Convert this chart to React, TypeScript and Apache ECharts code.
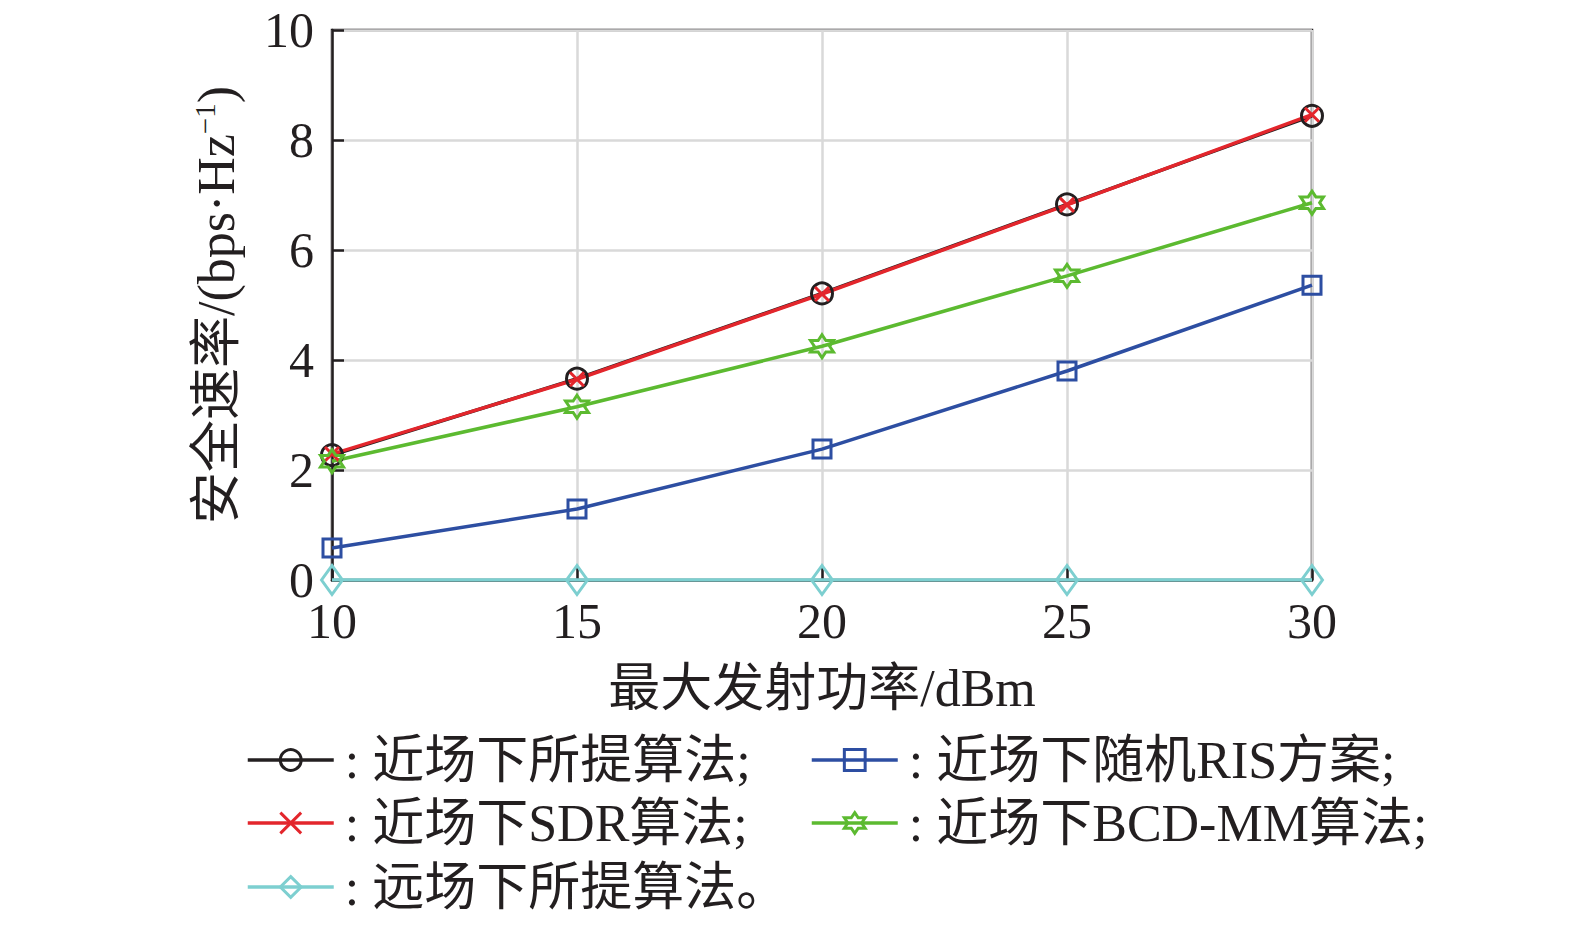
import React, { useEffect, useRef } from "react";
import * as echarts from "echarts";

const xValues = [10, 15, 20, 25, 30];
const nearProposed = [2.27, 3.66, 5.21, 6.83, 8.44];
const nearSDR = [2.29, 3.65, 5.2, 6.82, 8.46];
const nearRandomRIS = [0.58, 1.29, 2.38, 3.8, 5.36];
const nearBCDMM = [2.16, 3.15, 4.25, 5.53, 6.86];
const farProposed = [0, 0, 0, 0, 0];

const seriesNames = [
  "近场下所提算法",
  "近场下SDR算法",
  "近场下随机RIS方案",
  "近场下BCD-MM算法",
  "远场下所提算法",
];
const legendSuffix: Record<string, string> = {
  "近场下所提算法": ";",
  "近场下SDR算法": ";",
  "近场下随机RIS方案": ";",
  "近场下BCD-MM算法": ";",
  "远场下所提算法": "。",
};

const FONT = "'Liberation Serif', 'Times New Roman', 'Noto Sans CJK SC', serif";
const INK = "#231f20";

const hexagram =
  "path://M10,0L12.89,5L18.66,5L15.77,10L18.66,15L12.89,15L10,20L7.11,15L1.34,15L4.23,10L1.34,5L7.11,5Z";
const cross = "path://M0,0L10,10M10,0L0,10";

export default function App() {
  const ref = useRef<HTMLDivElement>(null);
  useEffect(() => {
    if (!ref.current) return;
    const chart = echarts.init(ref.current, undefined, { renderer: "svg" });
    const pair = (arr: number[]) => xValues.map((x, i) => [x, arr[i]]);
    const mk = (
      name: string,
      data: number[],
      color: string,
      symbol: string,
      symbolSize: number | number[]
    ) => ({
      name,
      type: "line",
      data: pair(data),
      symbol,
      symbolSize,
      showAllSymbol: true,
      lineStyle: { color, width: 3.5 },
      itemStyle: { color: "rgba(0,0,0,0)", borderColor: color, borderWidth: 3 },
      emphasis: { disabled: true },
    });
    const legendItem = (name: string, left: number, top: number) => ({
      orient: "horizontal",
      left,
      top,
      itemWidth: 86,
      itemHeight: 26,
      padding: 0,
      lineStyle: { width: 3.5 },
      itemStyle: { borderWidth: 3 },
      textStyle: {
        fontFamily: FONT,
        fontSize: 52,
        color: INK,
        lineHeight: 52,
        padding: [0, 0, 0, 6],
      },
      formatter: (n: string) => ": " + n + legendSuffix[n],
      selectedMode: false,
      data: [name],
    });
    chart.setOption({
      animation: false,
      backgroundColor: "#fff",
      grid: {
        left: 332,
        right: 263,
        top: 30,
        bottom: 349,
        show: true,
        borderColor: INK,
        borderWidth: 2.5,
      },
      legend: [
        legendItem(seriesNames[0], 246, 734),
        legendItem(seriesNames[2], 810, 734),
        legendItem(seriesNames[1], 246, 797),
        legendItem(seriesNames[3], 810, 797),
        legendItem(seriesNames[4], 246, 861),
      ],
      xAxis: {
        type: "value",
        min: 10,
        max: 30,
        interval: 5,
        name: "最大发射功率/dBm",
        nameLocation: "middle",
        nameGap: 82,
        nameTextStyle: { fontFamily: FONT, fontSize: 52, color: INK },
        axisLine: { show: true, lineStyle: { color: INK, width: 2.5 } },
        axisTick: { show: true, inside: true, length: 12, lineStyle: { color: INK, width: 2.5 } },
        axisLabel: { fontFamily: FONT, fontSize: 50, color: INK, margin: 16 },
        splitLine: { show: true, lineStyle: { color: "#d9d9d9", width: 2.5 } },
      },
      yAxis: {
        type: "value",
        min: 0,
        max: 10,
        interval: 2,
        name: "{a|安全速率/(bps·Hz}{b|−1}{a|)}",
        nameLocation: "middle",
        nameRotate: 90,
        nameGap: 90,
        nameTextStyle: {
          fontFamily: FONT,
          fontSize: 52,
          color: INK,
          rich: {
            a: { fontFamily: FONT, fontSize: 52, color: INK },
            b: { fontFamily: FONT, fontSize: 29, color: INK, verticalAlign: "top", padding: [0, 0, 22, 0] },
          },
        },
        axisLine: { show: true, lineStyle: { color: INK, width: 2.5 } },
        axisTick: { show: true, inside: true, length: 12, lineStyle: { color: INK, width: 2.5 } },
        axisLabel: { fontFamily: FONT, fontSize: 50, color: INK, margin: 18 },
        splitLine: { show: true, lineStyle: { color: "#d9d9d9", width: 2.5 } },
      },
      series: [
        mk(seriesNames[0], nearProposed, INK, "circle", 21),
        mk(seriesNames[1], nearSDR, "#e3262c", cross, 14),
        mk(seriesNames[2], nearRandomRIS, "#2d4ea2", "rect", 18),
        mk(seriesNames[3], nearBCDMM, "#5cba30", hexagram, 23),
        mk(seriesNames[4], farProposed, "#7dcfd0", "diamond", [21, 29]),
      ],
    });
    return () => chart.dispose();
  }, []);
  return (
    <div
      ref={ref}
      style={{ position: "fixed", left: 0, top: 0, width: 1575, height: 929 }}
    />
  );
}
